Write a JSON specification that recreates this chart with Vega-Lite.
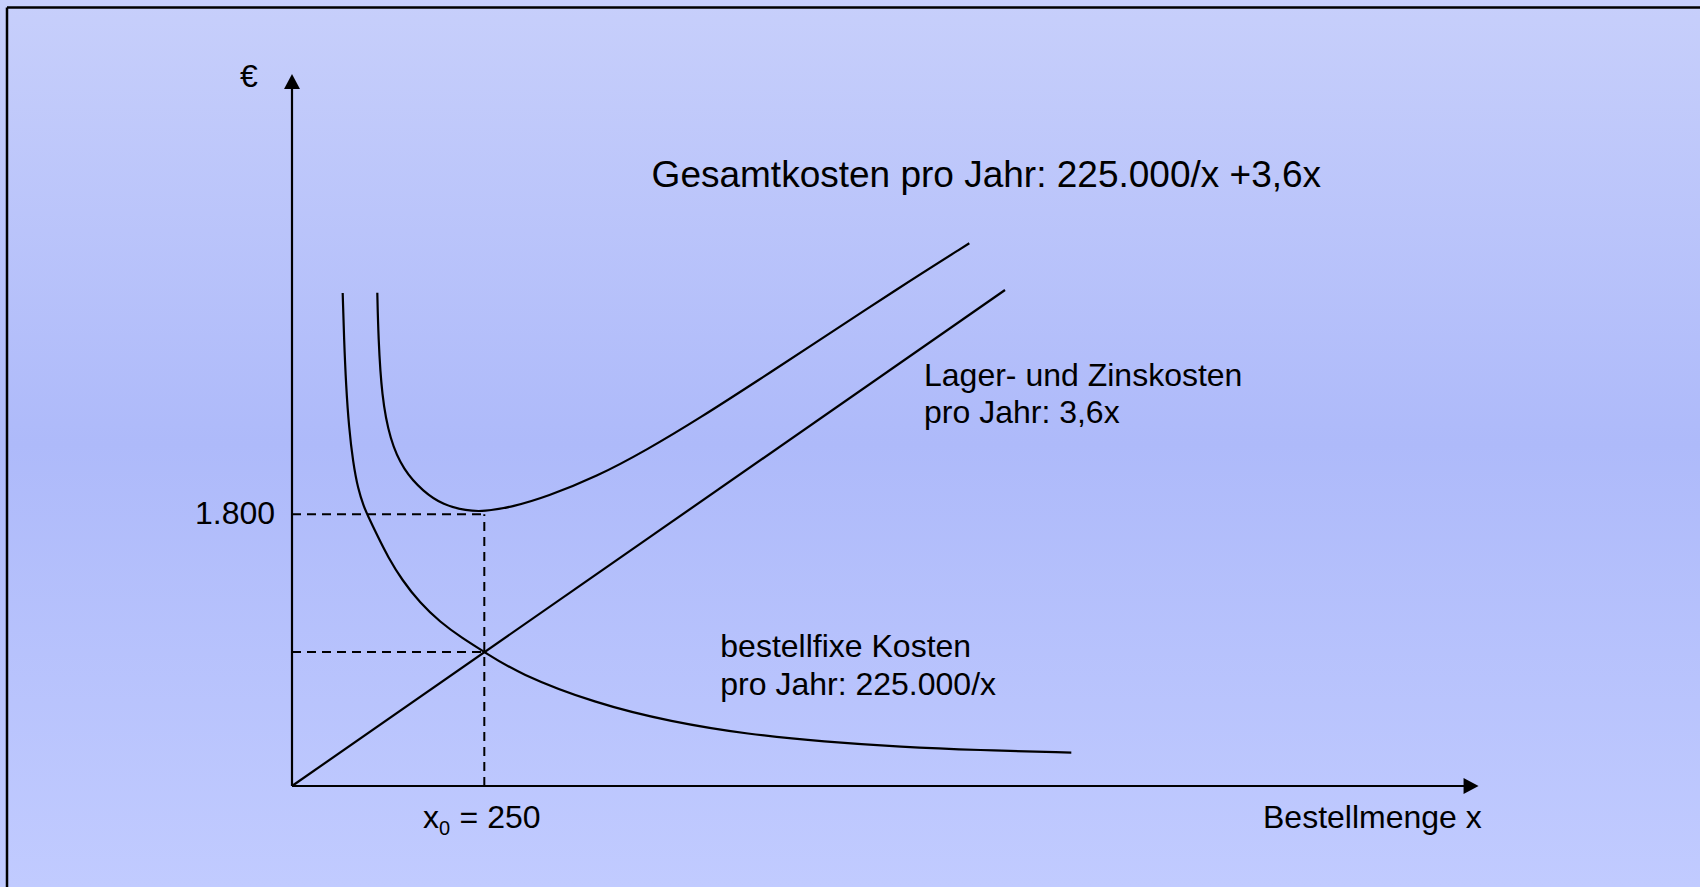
{
  "$schema": "https://vega.github.io/schema/vega-lite/v6.json",
  "width": 1700,
  "height": 887,
  "padding": 0,
  "autosize": {"type": "none"},
  "background": "#b8c3fb",
  "view": {
    "fill": {"gradient": "linear", "x1": 0, "y1": 0, "x2": 0, "y2": 1,
      "stops": [{"offset": 0, "color": "#c7cffb"}, {"offset": 0.5, "color": "#aebafa"}, {"offset": 1, "color": "#c1cbff"}]},
    "stroke": null
  },
  "datasets": {
    "border": [
      {"x": -370.5, "x2": 1830.4, "y": 5155.6, "y2": 5155.6},
      {"x": -370.5, "x2": -370.5, "y": 5155.6, "y2": -668.9}
    ],
    "axes": [
      {"x": 0, "x2": 0, "y": 0, "y2": 4650},
      {"x": 0, "x2": 1525, "y": 0, "y2": 0}
    ],
    "arrowUp": [{"x": 0, "y": 4715}],
    "arrowRight": [{"x": 1542.5, "y": 0}],
    "dashed": [
      {"x": 0, "x2": 250, "y": 1800, "y2": 1800},
      {"x": 250, "x2": 250, "y": 0, "y2": 1800},
      {"x": 0, "x2": 250, "y": 888, "y2": 888}
    ],
    "lager": [
      {"i": 0, "x": 0, "y": 0},
      {"i": 1, "x": 926.9, "y": 3284.8}
    ],
    "curves": [
      {"series": "fix", "i": 0, "x": 65.9, "y": 3264.9},
      {"series": "fix", "i": 1, "x": 67.6, "y": 2966.9},
      {"series": "fix", "i": 2, "x": 70.2, "y": 2655.6},
      {"series": "fix", "i": 3, "x": 74.1, "y": 2370.9},
      {"series": "fix", "i": 4, "x": 79.3, "y": 2145.7},
      {"series": "fix", "i": 5, "x": 85.8, "y": 1966.9},
      {"series": "fix", "i": 6, "x": 93.6, "y": 1847.7},
      {"series": "fix", "i": 7, "x": 98.2, "y": 1794.7},
      {"series": "fix", "i": 8, "x": 110.5, "y": 1662.2},
      {"series": "fix", "i": 9, "x": 124.8, "y": 1516.6},
      {"series": "fix", "i": 10, "x": 143.0, "y": 1364.2},
      {"series": "fix", "i": 11, "x": 166.4, "y": 1211.9},
      {"series": "fix", "i": 12, "x": 192.4, "y": 1086.1},
      {"series": "fix", "i": 13, "x": 221.0, "y": 980.1},
      {"series": "fix", "i": 14, "x": 250, "y": 888},
      {"series": "fix", "i": 15, "x": 294.2, "y": 744.4},
      {"series": "fix", "i": 16, "x": 393.6, "y": 548.3},
      {"series": "fix", "i": 17, "x": 493.2, "y": 424.5},
      {"series": "fix", "i": 18, "x": 592.7, "y": 342.4},
      {"series": "fix", "i": 19, "x": 692.1, "y": 292.7},
      {"series": "fix", "i": 20, "x": 791.7, "y": 258.9},
      {"series": "fix", "i": 21, "x": 891.2, "y": 237.7},
      {"series": "fix", "i": 22, "x": 1013.1, "y": 221.2},
      {"series": "total", "i": 0, "x": 110.9, "y": 3266.9},
      {"series": "total", "i": 1, "x": 112.2, "y": 2975.5},
      {"series": "total", "i": 2, "x": 116.6, "y": 2578.1},
      {"series": "total", "i": 3, "x": 127.4, "y": 2291.4},
      {"series": "total", "i": 4, "x": 144.7, "y": 2092.7},
      {"series": "total", "i": 5, "x": 170.7, "y": 1949.0},
      {"series": "total", "i": 6, "x": 196.7, "y": 1860.9},
      {"series": "total", "i": 7, "x": 227.1, "y": 1823.2},
      {"series": "total", "i": 8, "x": 248.7, "y": 1816.5},
      {"series": "total", "i": 9, "x": 287.7, "y": 1849.7},
      {"series": "total", "i": 10, "x": 331.1, "y": 1915.9},
      {"series": "total", "i": 11, "x": 396.1, "y": 2048.3},
      {"series": "total", "i": 12, "x": 461.1, "y": 2225.2},
      {"series": "total", "i": 13, "x": 530.4, "y": 2437.1},
      {"series": "total", "i": 14, "x": 610.6, "y": 2702.0},
      {"series": "total", "i": 15, "x": 660.4, "y": 2867.6},
      {"series": "total", "i": 16, "x": 790.4, "y": 3304.6},
      {"series": "total", "i": 17, "x": 880.5, "y": 3594.0}
    ],
    "labels": [
      {"text": "Lager- und Zinskosten", "x": 821.6, "y": 2652.3},
      {"text": "pro Jahr: 3,6x", "x": 821.6, "y": 2404.0},
      {"text": "bestellfixe Kosten", "x": 556.8, "y": 851.0},
      {"text": "pro Jahr: 225.000/x", "x": 556.8, "y": 600.7},
      {"text": "1.800", "x": -126.1, "y": 1735.1},
      {"text": "x", "x": 170.3, "y": -278.1},
      {"text": "= 250", "x": 217.9, "y": -278.1},
      {"text": "Bestellmenge x", "x": 1262.3, "y": -278.1},
      {"text": "€", "x": -67.6, "y": 4632.4}
    ],
    "title": [
      {"text": "Gesamtkosten pro Jahr: 225.000/x +3,6x", "x": 467.5, "y": 3966.9}
    ],
    "sub": [
      {"text": "0", "x": 191.1, "y": -324.5}
    ]
  },
  "encoding": {
    "x": {"field": "x", "type": "quantitative", "axis": null, "scale": {"domain": [-379.6, 1830.4], "nice": false, "zero": false}},
    "y": {"field": "y", "type": "quantitative", "axis": null, "scale": {"domain": [-668.9, 5205.3], "nice": false, "zero": false}}
  },
  "layer": [
    {
      "data": {"name": "border"},
      "mark": {"type": "rule", "color": "black", "strokeWidth": 2.5},
      "encoding": {"x2": {"field": "x2"}, "y2": {"field": "y2"}}
    },
    {
      "data": {"name": "dashed"},
      "mark": {"type": "rule", "color": "black", "strokeWidth": 2, "strokeDash": [9, 6]},
      "encoding": {"x2": {"field": "x2"}, "y2": {"field": "y2"}}
    },
    {
      "data": {"name": "axes"},
      "mark": {"type": "rule", "color": "black", "strokeWidth": 2.2},
      "encoding": {"x2": {"field": "x2"}, "y2": {"field": "y2"}}
    },
    {
      "data": {"name": "arrowUp"},
      "mark": {"type": "point", "shape": "M0,0L-0.53,1L0.53,1Z", "size": 900, "filled": true, "color": "black", "opacity": 1, "strokeWidth": 0}
    },
    {
      "data": {"name": "arrowRight"},
      "mark": {"type": "point", "shape": "M0,0L-1,-0.53L-1,0.53Z", "size": 900, "filled": true, "color": "black", "opacity": 1, "strokeWidth": 0}
    },
    {
      "data": {"name": "lager"},
      "mark": {"type": "line", "strokeWidth": 2.2, "color": "black"},
      "encoding": {"order": {"field": "i", "type": "quantitative"}}
    },
    {
      "data": {"name": "curves"},
      "mark": {"type": "line", "interpolate": "basis", "strokeWidth": 2.2, "color": "black"},
      "encoding": {"detail": {"field": "series"}, "order": {"field": "i", "type": "quantitative"}}
    },
    {
      "data": {"name": "labels"},
      "mark": {"type": "text", "align": "left", "baseline": "alphabetic", "fontSize": 32, "font": "Liberation Sans", "color": "black"},
      "encoding": {"text": {"field": "text"}}
    },
    {
      "data": {"name": "title"},
      "mark": {"type": "text", "align": "left", "baseline": "alphabetic", "fontSize": 37, "font": "Liberation Sans", "color": "black"},
      "encoding": {"text": {"field": "text"}}
    },
    {
      "data": {"name": "sub"},
      "mark": {"type": "text", "align": "left", "baseline": "alphabetic", "fontSize": 20, "font": "Liberation Sans", "color": "black"},
      "encoding": {"text": {"field": "text"}}
    }
  ]
}
